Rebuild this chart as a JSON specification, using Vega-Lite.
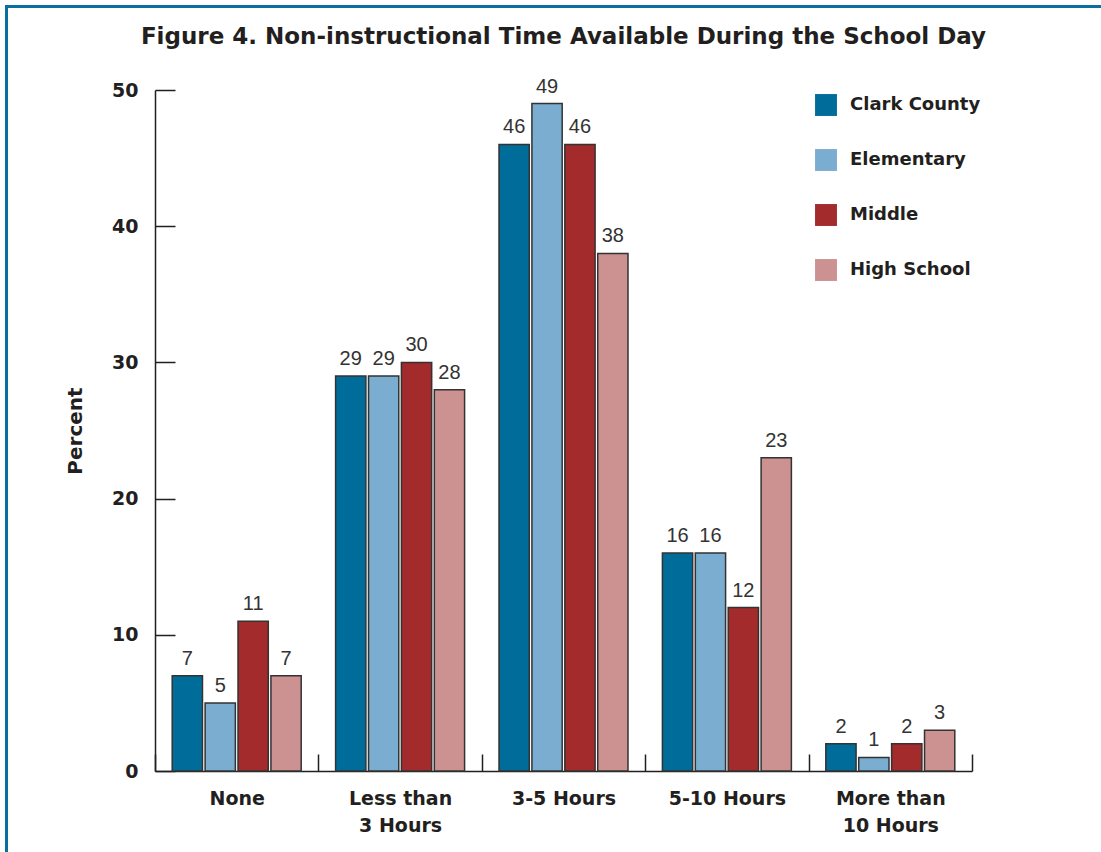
{
  "$schema": "https://vega.github.io/schema/vega-lite/v6.json",
  "padding": {"left": 5, "top": 5, "right": 0, "bottom": 0},
  "background": "white",
  "config": {
    "view": {"stroke": null},
    "font": "DejaVu Sans"
  },
  "datasets": {
    "survey": [
      {"hours": "None", "group": "Clark County", "percent": 7},
      {"hours": "None", "group": "Elementary", "percent": 5},
      {"hours": "None", "group": "Middle", "percent": 11},
      {"hours": "None", "group": "High School", "percent": 7},
      {"hours": "Less than 3 Hours", "group": "Clark County", "percent": 29},
      {"hours": "Less than 3 Hours", "group": "Elementary", "percent": 29},
      {"hours": "Less than 3 Hours", "group": "Middle", "percent": 30},
      {"hours": "Less than 3 Hours", "group": "High School", "percent": 28},
      {"hours": "3-5 Hours", "group": "Clark County", "percent": 46},
      {"hours": "3-5 Hours", "group": "Elementary", "percent": 49},
      {"hours": "3-5 Hours", "group": "Middle", "percent": 46},
      {"hours": "3-5 Hours", "group": "High School", "percent": 38},
      {"hours": "5-10 Hours", "group": "Clark County", "percent": 16},
      {"hours": "5-10 Hours", "group": "Elementary", "percent": 16},
      {"hours": "5-10 Hours", "group": "Middle", "percent": 12},
      {"hours": "5-10 Hours", "group": "High School", "percent": 23},
      {"hours": "More than 10 Hours", "group": "Clark County", "percent": 2},
      {"hours": "More than 10 Hours", "group": "Elementary", "percent": 1},
      {"hours": "More than 10 Hours", "group": "Middle", "percent": 2},
      {"hours": "More than 10 Hours", "group": "High School", "percent": 3}
    ]
  },
  "spacing": 0,
  "vconcat": [
    {
      "width": 1096,
      "height": 3,
      "view": {"fill": "#0a6f9f", "stroke": null},
      "data": {"values": []},
      "mark": "rect"
    },
    {
      "spacing": 147,
      "center": true,
      "bounds": "flush",
      "hconcat": [
        {
          "width": 3,
          "height": 845,
          "view": {"fill": "#0a6f9f", "stroke": null},
          "data": {"values": []},
          "mark": "rect"
        },
        {
          "width": 817,
          "height": 681,
          "title": {
            "text": "Figure 4. Non-instructional Time Available During the School Day",
            "font": "DejaVu Sans",
            "fontSize": 23,
            "fontWeight": "bold",
            "color": "#231f20",
            "anchor": "middle",
            "offset": 28
          },
          "data": {"name": "survey"},
          "encoding": {
            "x": {
              "field": "hours",
              "type": "nominal",
              "sort": ["None", "Less than 3 Hours", "3-5 Hours", "5-10 Hours", "More than 10 Hours"],
              "scale": {"paddingInner": 0, "paddingOuter": 0},
              "axis": {
                "title": null,
                "labelAngle": 0,
                "labelFont": "DejaVu Sans",
                "labelFontSize": 19,
                "labelFontWeight": "bold",
                "labelColor": "#231f20",
                "labelPadding": 35,
                "labelLineHeight": 27,
                "labelExpr": "datum.label == 'Less than 3 Hours' ? ['Less than', '3 Hours'] : datum.label == 'More than 10 Hours' ? ['More than', '10 Hours'] : datum.label",
                "tickBand": "extent",
                "tickSize": -17,
                "tickColor": "#231f20",
                "tickWidth": 1.5,
                "domainColor": "#231f20",
                "domainWidth": 1.5
              }
            },
            "xOffset": {
              "field": "group",
              "type": "nominal",
              "sort": ["Clark County", "Elementary", "Middle", "High School"],
              "scale": {"paddingInner": 0.08, "paddingOuter": 0.523}
            },
            "y": {
              "field": "percent",
              "type": "quantitative",
              "scale": {"domain": [0, 50], "nice": false},
              "axis": {
                "values": [0, 10, 20, 30, 40, 50],
                "grid": false,
                "title": "Percent",
                "titleFont": "DejaVu Sans",
                "titleFontSize": 20,
                "titleFontWeight": "bold",
                "titleColor": "#231f20",
                "titlePadding": 26,
                "labelFont": "DejaVu Sans",
                "labelFontSize": 19,
                "labelFontWeight": "bold",
                "labelColor": "#231f20",
                "labelPadding": 37,
                "tickSize": -20,
                "tickColor": "#231f20",
                "tickWidth": 1.5,
                "domainColor": "#231f20",
                "domainWidth": 1.5
              }
            }
          },
          "layer": [
            {
              "mark": {"type": "bar", "stroke": "#333333", "strokeWidth": 1.5},
              "encoding": {
                "color": {
                  "field": "group",
                  "type": "nominal",
                  "sort": ["Clark County", "Elementary", "Middle", "High School"],
                  "scale": {
                    "domain": ["Clark County", "Elementary", "Middle", "High School"],
                    "range": ["#006c9a", "#7aadcf", "#a32b2b", "#cc9191"]
                  },
                  "legend": {
                    "orient": "none",
                    "legendX": 810,
                    "legendY": 89,
                    "title": null,
                    "padding": 0,
                    "symbolType": "square",
                    "symbolSize": 480,
                    "symbolStrokeWidth": 0,
                    "symbolOpacity": 1,
                    "labelFont": "DejaVu Sans",
                    "labelFontSize": 18,
                    "labelFontWeight": "bold",
                    "labelColor": "#231f20",
                    "labelOffset": 13,
                    "rowPadding": 33
                  }
                }
              }
            },
            {
              "mark": {"type": "text", "font": "Liberation Sans", "baseline": "alphabetic", "dy": -11, "fontSize": 20, "color": "#333333"},
              "encoding": {"text": {"field": "percent", "type": "quantitative"}}
            }
          ]
        }
      ]
    }
  ]
}
